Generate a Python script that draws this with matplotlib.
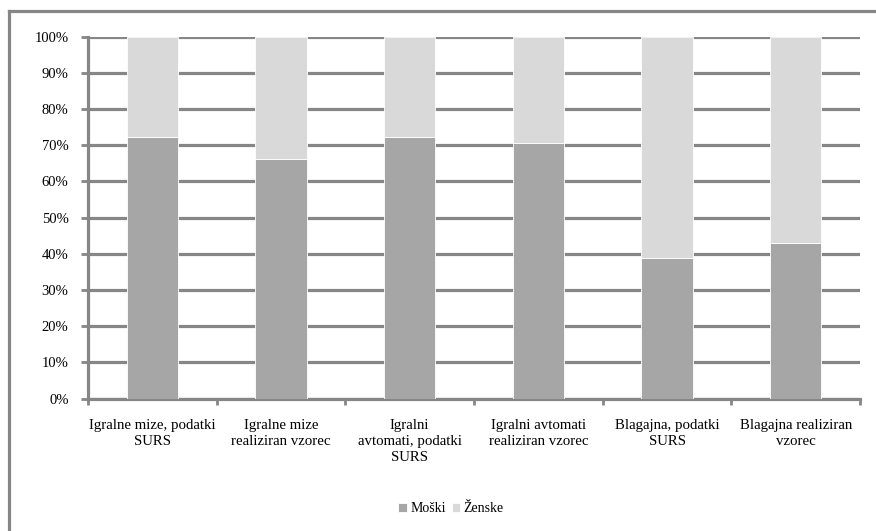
import matplotlib.pyplot as plt
import numpy as np
from matplotlib.lines import Line2D

categories = ["Igralne mize, podatki\nSURS",
              "Igralne mize\nrealiziran vzorec",
              "Igralni\navtomati, podatki\nSURS",
              "Igralni avtomati\nrealiziran vzorec",
              "Blagajna, podatki\nSURS",
              "Blagajna realiziran\nvzorec"]
moski = [72.3, 66.1, 72.3, 70.7, 38.9, 42.9]
zenske = [100 - v for v in moski]

plt.rcParams['font.family'] = ['Liberation Serif', 'DejaVu Serif']
grey = '#868686'

fig = plt.figure(figsize=(8.76, 5.31), dpi=100)
ax = fig.add_axes([88 / 876, 1 - 398.5 / 531, (860 - 88) / 876, (398.5 - 36.7) / 531])

x = np.arange(len(categories))
ax.bar(x, moski, width=0.4, color='#a6a6a6', edgecolor='white',
       linewidth=0.6, zorder=3, label='Moški')
ax.bar(x, zenske, width=0.4, bottom=moski, color='#d9d9d9',
       edgecolor='white', linewidth=0.6, zorder=3, label='Ženske')

ax.set_xlim(-0.5, len(categories) - 0.5)
ax.set_ylim(0, 100)
ax.set_yticks(np.arange(0, 101, 10))
ax.set_yticklabels([f'{v}%' for v in range(0, 101, 10)], fontsize=10.5)
ax.yaxis.grid(True, color=grey, linewidth=2.3, zorder=0)
ax.set_axisbelow(True)

# category labels sit between minor boundary ticks
ax.set_xticks(x)
ax.set_xticklabels(categories, fontsize=10.7, linespacing=1.27)
ax.tick_params(axis='x', length=0, pad=15)
ax.set_xticks(np.arange(-0.5, len(categories)), minor=True)
ax.tick_params(axis='x', which='minor', length=4, width=2, color=grey)
ax.tick_params(axis='y', length=5, width=2, color=grey, pad=9)

for side in ['top', 'right']:
    ax.spines[side].set_visible(False)
for side in ['left', 'bottom']:
    ax.spines[side].set_color(grey)
    ax.spines[side].set_linewidth(2.3)

leg = fig.legend(loc='center', bbox_to_anchor=(451 / 876, 1 - 509 / 531),
                 ncol=2, frameon=False, fontsize=10, handlelength=0.6,
                 handleheight=0.6, handletextpad=0.25, columnspacing=0.45)

# outer chart frame
fig.add_artist(Line2D([9 / 876, 1], [1 - 11 / 531] * 2, color=grey, lw=2.3))
fig.add_artist(Line2D([9 / 876] * 2, [1 - 11 / 531, 0], color=grey, lw=2.3))

plt.savefig('out.png', dpi=100)
